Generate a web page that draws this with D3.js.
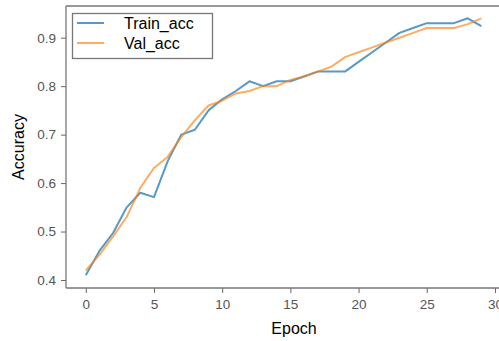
<!DOCTYPE html>
<html>
<head>
<meta charset="utf-8">
<script src="https://cdn.jsdelivr.net/npm/d3@7"></script>
<style>
	body { margin: 0; background: #fff; }
	svg { display: block; font-family: "Liberation Sans", Arial, sans-serif; }
</style>
</head>
<body>
<svg id="chart" width="499" height="341"></svg>
<script>
	// epochs and accuracy values
	var epochs = d3.range(0, 30);
	var trainAcc = [0.41, 0.46, 0.497, 0.55, 0.58, 0.571, 0.645, 0.70, 0.71, 0.75,
	                0.773, 0.79, 0.81, 0.80, 0.81, 0.81, 0.82, 0.83, 0.83, 0.83,
	                0.85, 0.87, 0.89, 0.91, 0.92, 0.93, 0.93, 0.93, 0.94, 0.924];
	var valAcc = [0.42, 0.452, 0.49, 0.53, 0.59, 0.631, 0.654, 0.695, 0.73, 0.76,
	              0.77, 0.785, 0.79, 0.80, 0.80, 0.813, 0.82, 0.83, 0.84, 0.86,
	              0.87, 0.88, 0.89, 0.90, 0.91, 0.92, 0.92, 0.92, 0.928, 0.94];
	var xTicks = [0, 5, 10, 15, 20, 25, 30];
	var yTicks = [0.4, 0.5, 0.6, 0.7, 0.8, 0.9];
	var seriesNames = ["Train_acc", "Val_acc"];
	var seriesColors = ["#1f77b4", "#ff7f0e"];

	var svg = d3.select("#chart");
	var plotLeft = 66, plotTop = 6, plotBottom = 288;

	var x = d3.scaleLinear().domain([-1.45, 30.45]).range([plotLeft, plotLeft + 31.9 * 13.64]);
	var y = d3.scaleLinear().domain([0.3835, 0.9654]).range([plotBottom, plotTop]);

	// lines
	var line = d3.line()
		.x(function(d, i) { return x(epochs[i]); })
		.y(function(d) { return y(d); });

	[trainAcc, valAcc].forEach(function(data, k) {
		svg.append("path")
			.datum(data)
			.attr("fill", "none")
			.attr("stroke", seriesColors[k])
			.attr("stroke-opacity", k == 0 ? 0.75 : 0.65)
			.attr("stroke-width", 2)
			.attr("stroke-linejoin", "round")
			.attr("d", line);
	});

	// axes
	var xAxis = svg.append("g")
		.attr("transform", "translate(0," + plotBottom + ")")
		.call(d3.axisBottom(x).tickValues(xTicks).tickSize(5).tickPadding(6).tickFormat(d3.format("d")));
	var yAxis = svg.append("g")
		.attr("transform", "translate(" + plotLeft + ",0)")
		.call(d3.axisLeft(y).tickValues(yTicks).tickSize(5).tickPadding(5).tickFormat(d3.format(".1f")));

	[xAxis, yAxis].forEach(function(ax) {
		ax.attr("font-size", 13.5).attr("font-family", "'Liberation Sans', Arial, sans-serif");
		ax.select(".domain").remove();
		ax.selectAll(".tick line").attr("stroke", "#666");
		ax.selectAll(".tick text").attr("fill", "#555");
	});

	// spines
	svg.append("line").attr("x1", plotLeft).attr("x2", plotLeft).attr("y1", plotTop).attr("y2", plotBottom)
		.attr("stroke", "#777").attr("stroke-width", 1.3);
	svg.append("line").attr("x1", plotLeft).attr("x2", 499).attr("y1", plotBottom).attr("y2", plotBottom)
		.attr("stroke", "#777").attr("stroke-width", 1.3);
	svg.append("line").attr("x1", plotLeft).attr("x2", 499).attr("y1", plotTop).attr("y2", plotTop)
		.attr("stroke", "#777").attr("stroke-width", 1.3);

	// axis titles
	svg.append("text")
		.attr("x", 294).attr("y", 334)
		.attr("text-anchor", "middle")
		.style("font-size", "16px")
		.text("Epoch");
	svg.append("text")
		.attr("transform", "translate(24,147) rotate(-90)")
		.attr("text-anchor", "middle")
		.style("font-size", "16px")
		.text("Accuracy");

	// legend
	var legend = svg.append("g");
	legend.append("rect")
		.attr("x", 72.5).attr("y", 13.5).attr("width", 140).attr("height", 45)
		.attr("fill", "#fff").attr("stroke", "#777").attr("stroke-width", 1.3);
	seriesNames.forEach(function(name, k) {
		var ly = 23 + k * 20;
		legend.append("line")
			.attr("x1", 77).attr("x2", 104).attr("y1", ly).attr("y2", ly)
			.attr("stroke", seriesColors[k])
			.attr("stroke-opacity", k == 0 ? 0.75 : 0.65)
			.attr("stroke-width", 2);
		legend.append("text")
			.attr("x", 124).attr("y", ly + 6)
			.style("font-size", "16px")
			.text(name);
	});
</script>
</body>
</html>
